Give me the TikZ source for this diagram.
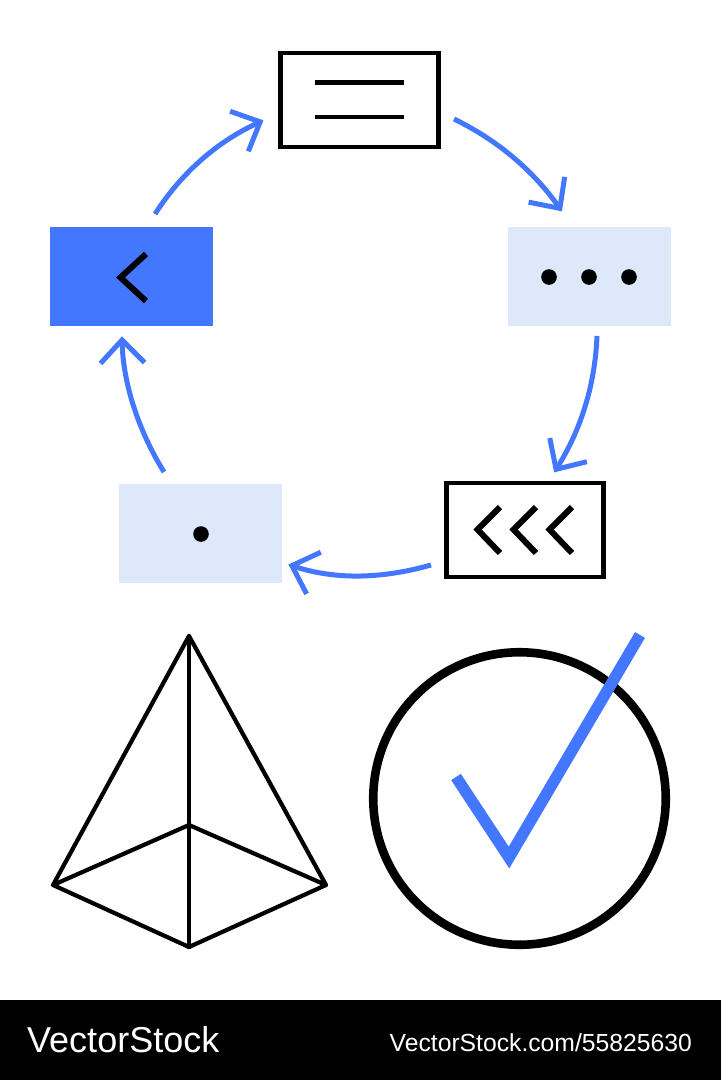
\documentclass[tikz,border=0pt]{standalone}
\usepackage{fontspec}
\setmainfont{Liberation Sans}
\usetikzlibrary{arrows.meta}
\definecolor{vsblue}{HTML}{4377FF}
\definecolor{vslight}{HTML}{DDE8FA}
\pgfdeclarearrow{
  name=OpenVee,
  setup code={
    \pgfarrowssettipend{0pt}
    \pgfarrowssetlineend{-3pt}
    \pgfarrowssetvisualbackend{-20pt}
    \pgfarrowssetbackend{-24pt}
    \pgfarrowshullpoint{-24pt}{22pt}
    \pgfarrowshullpoint{-24pt}{-22pt}
    \pgfarrowshullpoint{0pt}{0pt}
  },
  drawing code={
    \pgfsetdash{}{0pt}
    \pgfsetmiterjoin
    \pgfsetbuttcap
    \pgfpathmoveto{\pgfqpoint{-25pt}{22pt}}
    \pgfpathlineto{\pgfqpoint{-2pt}{0pt}}
    \pgfpathlineto{\pgfqpoint{-25pt}{-22pt}}
    \pgfusepathqstroke
  },
}
\tikzset{
  x=1pt,y=-1pt,
  box/.style={minimum width=#1,minimum height=94pt,inner sep=0pt,outer sep=0pt},
  box/.default=157.5pt,
  outlined/.style={box,draw=black,line width=4.8pt,fill=white},
  lightbox/.style={box=163pt,minimum height=99pt,fill=vslight},
  bluebox/.style={box=163pt,minimum height=99pt,fill=vsblue},
  flow/.style={vsblue,line width=5pt,-OpenVee},
  glyph/.style={black,line width=6pt,miter limit=10},
  pyr/.style={black,line width=4.2pt,line join=round,line cap=round},
}
\begin{document}
\begin{tikzpicture}
\useasboundingbox (0,0) rectangle (721,1080);
\fill[white] (0,0) rectangle (721,1080);
% boxes
\node[outlined] (top) at (359.5,100) {};
\node[lightbox] (right) at (589.5,276.5) {};
\node[outlined] (low) at (525,530) {};
\node[lightbox] (bottom) at (200.5,533.5) {};
\node[bluebox] (left) at (131.5,276.5) {};
% glyphs
\draw[glyph,line width=4.8pt] (315,82.5) -- (404,82.5) (315,117) -- (404,117);
\foreach \x in {549,589,629} \fill (\x,277) circle (7.8);
\fill (201,534) circle (7.8);
\foreach \d in {0,36,72} \draw[glyph] (500+\d,507) -- (477.5+\d,529.5) -- (500+\d,553);
\draw[glyph] (146,254) -- (120.5,277.5) -- (146,301);
% arrow ends
\coordinate (a1) at (155,214); \coordinate (b1) at (262,121);
\coordinate (a2) at (454,119); \coordinate (b2) at (561,210);
\coordinate (a3) at (597,336); \coordinate (b3) at (555,471);
\coordinate (a4) at (431,565); \coordinate (b4) at (290,565);
\coordinate (a5) at (164,472); \coordinate (b5) at (122,338);
\draw[flow] (a1) .. controls (182,172) and (218,141) .. (b1);
\draw[flow] (a2) .. controls (497,140) and (533,170) .. (b2);
\draw[flow] (a3) .. controls (595,385) and (581,430) .. (b3);
\draw[flow] (a4) .. controls (385,578) and (337,581) .. (b4);
\draw[flow] (a5) .. controls (140,433) and (123,386) .. (b5);
% pyramid
\coordinate (apex) at (189,636);
\coordinate (pl) at (53,885);
\coordinate (pr) at (326,885);
\coordinate (pf) at (189,947);
\coordinate (pb) at (189,825);
\draw[pyr] (pl) -- (apex) -- (pr) -- (pf) -- (pl) -- (pb) -- (pr);
\draw[pyr] (apex) -- (pf);
% check
\node[circle,draw=black,line width=8.6pt,minimum size=292.5pt,inner sep=0pt,outer sep=0pt] (ring) at (519.5,798.5) {};
\draw[vsblue,line width=11.5pt,miter limit=10] (456,777) -- (509,857.5) -- (640,635);
% footer
\fill[black] (0,1000) rectangle (721,1080);
\node[anchor=base west,white,font=\fontsize{36}{36}\selectfont,inner sep=0pt] (brand) at (27,1052) {VectorStock};
\node[anchor=base east,white,font=\fontsize{24.7}{25}\selectfont,inner sep=0pt] (url) at (692,1051) {VectorStock.com/55825630};
\end{tikzpicture}
\end{document}
